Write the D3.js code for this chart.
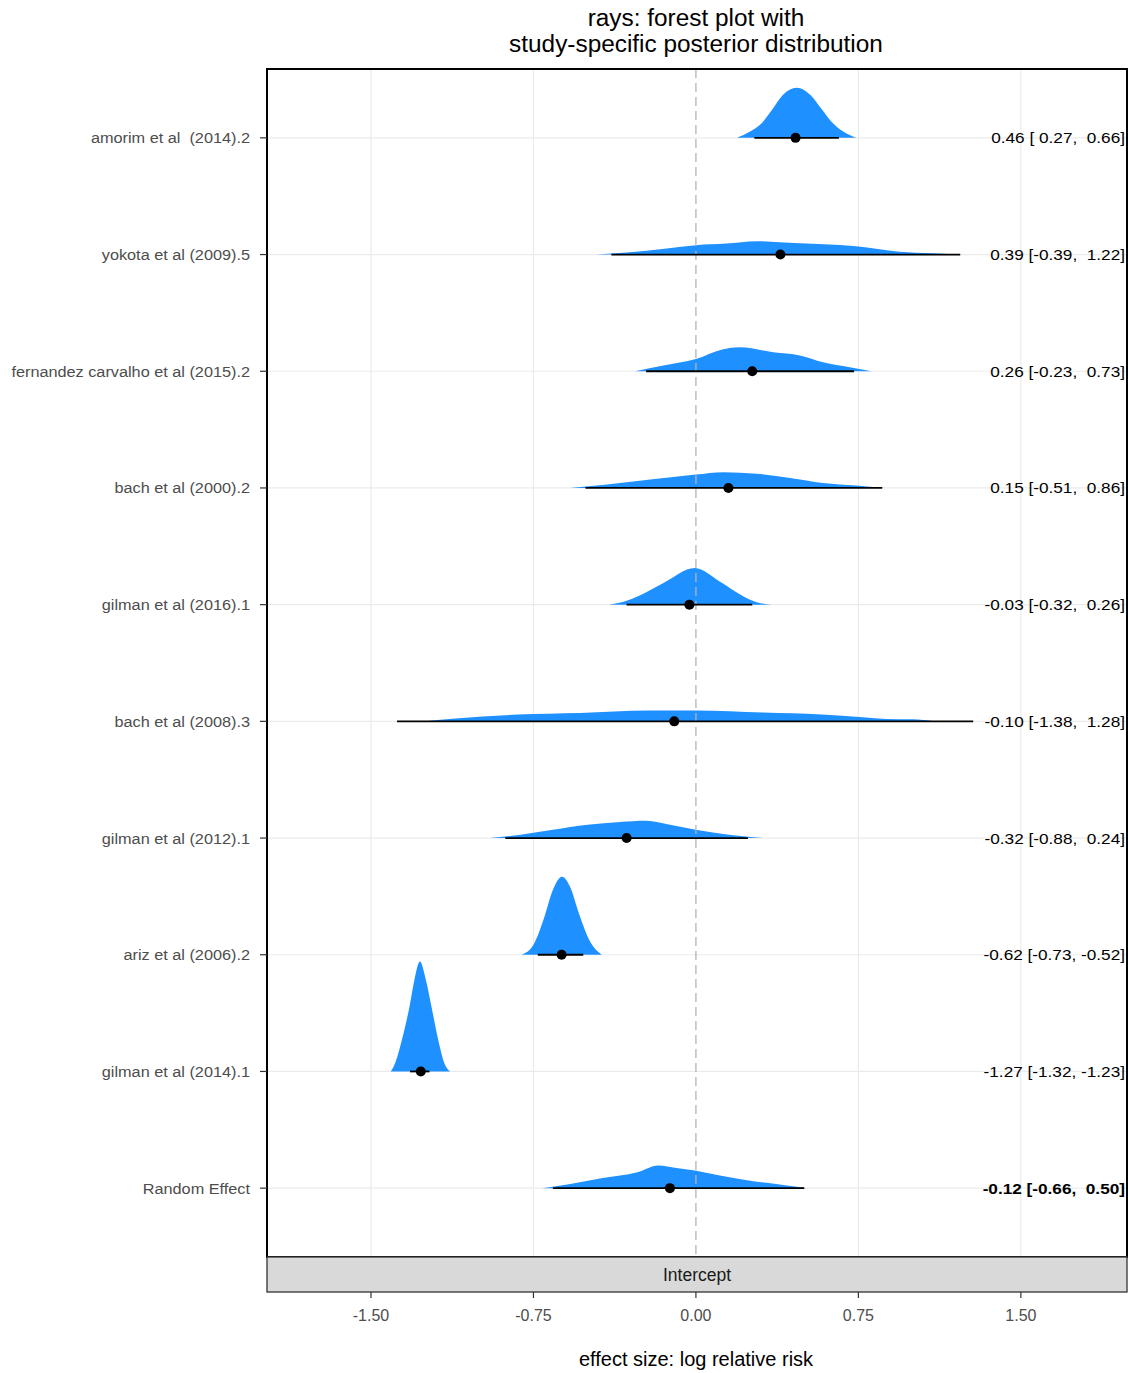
<!DOCTYPE html>
<html>
<head>
<meta charset="utf-8">
<script src="https://cdn.jsdelivr.net/npm/d3@7"></script>
<style>
  body { margin: 0; background: #fff; }
  text { font-family: "Liberation Sans", Arial, sans-serif; }
</style>
</head>
<body>
<svg id="chart" width="1128" height="1373"></svg>
<script>
// studies, top to bottom
const studies = [
  "amorim et al  (2014).2",
  "yokota et al (2009).5",
  "fernandez carvalho et al (2015).2",
  "bach et al (2000).2",
  "gilman et al (2016).1",
  "bach et al (2008).3",
  "gilman et al (2012).1",
  "ariz et al (2006).2",
  "gilman et al (2014).1",
  "Random Effect"
];
const estimates = [0.46, 0.39, 0.26, 0.15, -0.03, -0.10, -0.32, -0.62, -1.27, -0.12];
const lower = [0.27, -0.39, -0.23, -0.51, -0.32, -1.38, -0.88, -0.73, -1.32, -0.66];
const upper = [0.66, 1.22, 0.73, 0.86, 0.26, 1.28, 0.24, -0.52, -1.23, 0.50];

// posterior densities: [effect, density]
const densities = [
  [[0.19,0],[0.25,0.5],[0.30,1.1],[0.35,2.2],[0.40,3.4],[0.465,4.0],[0.53,3.4],[0.58,2.3],[0.63,1.2],[0.68,0.5],[0.74,0]],
  [[-0.46,0],[-0.32,0.16],[-0.135,0.48],[0.0,0.75],[0.14,0.88],[0.28,1.07],[0.43,0.94],[0.59,0.82],[0.74,0.66],[0.94,0.22],[1.09,0.1],[1.23,0]],
  [[-0.28,0],[-0.15,0.46],[0.0,0.98],[0.126,1.76],[0.2,1.92],[0.357,1.52],[0.48,1.26],[0.587,0.72],[0.71,0.32],[0.81,0]],
  [[-0.58,0],[-0.41,0.27],[-0.21,0.67],[0.0,1.07],[0.126,1.26],[0.28,1.14],[0.434,0.8],[0.587,0.4],[0.74,0.19],[0.87,0]],
  [[-0.40,0],[-0.33,0.25],[-0.27,0.66],[-0.15,1.74],[-0.005,2.94],[0.11,1.86],[0.22,0.66],[0.28,0.2],[0.35,0]],
  [[-1.25,0],[-1.11,0.22],[-0.82,0.54],[-0.535,0.66],[-0.22,0.86],[0.0,0.86],[0.31,0.7],[0.58,0.54],[0.77,0.32],[0.88,0.19],[1.0,0.16],[1.1,0]],
  [[-0.95,0],[-0.81,0.27],[-0.66,0.66],[-0.50,1.06],[-0.35,1.28],[-0.23,1.38],[-0.12,1.06],[0.0,0.66],[0.126,0.32],[0.31,0]],
  [[-0.805,0],[-0.75,0.8],[-0.70,3.0],[-0.66,5.2],[-0.618,6.24],[-0.58,5.4],[-0.54,3.3],[-0.49,1.1],[-0.435,0]],
  [[-1.409,0],[-1.39,0.6],[-1.358,2.48],[-1.323,5.12],[-1.300,7.28],[-1.274,8.8],[-1.246,7.28],[-1.220,5.12],[-1.189,2.48],[-1.16,0.6],[-1.135,0]],
  [[-0.71,0],[-0.58,0.34],[-0.43,0.82],[-0.27,1.28],[-0.174,1.82],[-0.09,1.62],[-0.005,1.42],[0.11,1.02],[0.265,0.56],[0.42,0.22],[0.51,0]]
];
const xTicks = [-1.5, -0.75, 0, 0.75, 1.5];

const svg = d3.select("#chart");
const panel = {left: 267, right: 1127, top: 69, bottom: 1257};

const x = d3.scaleLinear().domain([-1.98, 1.99]).range([panel.left, panel.right]);
const y = d3.scalePoint().domain(studies).range([panel.top, panel.bottom]).padding(0.59);
const h = d3.scaleLinear().domain([0, 1]).range([0, 12.5]);

// text in the source is a bit wider than Liberation Sans
const stretch = (sel, px, py, sx) => sel.attr("transform", "translate(" + px + "," + py + ") scale(" + sx + ",1)");

// title
stretch(svg.append("text"), 696, 26, 1.06).attr("text-anchor", "middle")
  .style("font-size", "23px").text("rays: forest plot with");
stretch(svg.append("text"), 696, 52, 1.06).attr("text-anchor", "middle")
  .style("font-size", "23px").text("study-specific posterior distribution");

// grid
const g = svg.append("g");
g.selectAll(".vgrid").data(xTicks.filter(d => d !== 0)).enter().append("line")
  .attr("x1", d => x(d)).attr("x2", d => x(d))
  .attr("y1", panel.top).attr("y2", panel.bottom)
  .attr("stroke", "#ebebeb").attr("stroke-width", 1.2);
g.selectAll(".hgrid").data(studies).enter().append("line")
  .attr("x1", panel.left).attr("x2", panel.right)
  .attr("y1", d => y(d)).attr("y2", d => y(d))
  .attr("stroke", "#ebebeb").attr("stroke-width", 1.2);

// densities
const area = d3.area()
  .x(d => x(d[0]))
  .y0(0)
  .y1(d => -h(d[1]))
  .curve(d3.curveMonotoneX);
g.selectAll(".dens").data(densities).enter().append("path")
  .attr("transform", (d, i) => "translate(0," + y(studies[i]) + ")")
  .attr("d", area)
  .attr("fill", "#1E90FF");

// zero line
g.append("line")
  .attr("x1", x(0)).attr("x2", x(0))
  .attr("y1", panel.top).attr("y2", panel.bottom)
  .attr("stroke", "#b3b3b3").attr("stroke-width", 1.3)
  .attr("stroke-dasharray", "9,5");

// intervals + points
g.selectAll(".ci").data(studies).enter().append("line")
  .attr("x1", (d, i) => x(lower[i])).attr("x2", (d, i) => x(upper[i]))
  .attr("y1", d => y(d)).attr("y2", d => y(d))
  .attr("stroke", "#000").attr("stroke-width", 1.8);
g.selectAll(".pt").data(studies).enter().append("circle")
  .attr("cx", (d, i) => x(estimates[i])).attr("cy", d => y(d))
  .attr("r", 5).attr("fill", "#000");

// estimate labels
const fmt = v => (v < 0 ? "" : " ") + v.toFixed(2);
g.selectAll(".lab").data(studies).enter().append("text")
  .attr("transform", d => "translate(1125," + (y(d) + 5.5) + ") scale(1.11,1)")
  .attr("text-anchor", "end")
  .attr("xml:space", "preserve")
  .style("white-space", "pre")
  .style("font-size", "15.5px")
  .style("font-weight", d => d === "Random Effect" ? "bold" : "normal")
  .text((d, i) => estimates[i].toFixed(2) + " [" + fmt(lower[i]) + ", " + fmt(upper[i]) + "]");

// panel border
svg.append("rect")
  .attr("x", panel.left).attr("y", panel.top)
  .attr("width", panel.right - panel.left).attr("height", panel.bottom - panel.top)
  .attr("fill", "none").attr("stroke", "#000").attr("stroke-width", 2);

// strip
svg.append("rect")
  .attr("x", panel.left).attr("y", panel.bottom)
  .attr("width", panel.right - panel.left).attr("height", 35)
  .attr("fill", "#d9d9d9").attr("stroke", "#333").attr("stroke-width", 1.3);
svg.append("text").attr("x", (panel.left + panel.right) / 2).attr("y", panel.bottom + 24)
  .attr("text-anchor", "middle").style("font-size", "17.5px").attr("fill", "#1a1a1a")
  .text("Intercept");

// x axis
const xAxis = svg.append("g").attr("transform", "translate(0," + (panel.bottom + 35) + ")");
xAxis.selectAll("line").data(xTicks).enter().append("line")
  .attr("x1", d => x(d)).attr("x2", d => x(d))
  .attr("y1", 0).attr("y2", 6).attr("stroke", "#333").attr("stroke-width", 1.2);
xAxis.selectAll("text").data(xTicks).enter().append("text")
  .attr("x", d => x(d)).attr("y", 29).attr("text-anchor", "middle")
  .style("font-size", "16px").attr("fill", "#4d4d4d")
  .text(d => d3.format(".2f")(d).replace("−", "-"));
svg.append("text").attr("x", 696).attr("y", 1366).attr("text-anchor", "middle")
  .style("font-size", "20px").text("effect size: log relative risk");

// y axis
const yAxis = svg.append("g");
yAxis.selectAll("line").data(studies).enter().append("line")
  .attr("x1", panel.left - 7).attr("x2", panel.left)
  .attr("y1", d => y(d)).attr("y2", d => y(d))
  .attr("stroke", "#333").attr("stroke-width", 1.2);
yAxis.selectAll("text").data(studies).enter().append("text")
  .attr("transform", d => "translate(250," + (y(d) + 5.5) + ") scale(1.05,1)")
  .attr("text-anchor", "end")
  .attr("xml:space", "preserve").style("white-space", "pre")
  .style("font-size", "15.5px").attr("fill", "#4d4d4d")
  .text(d => d);
</script>
</body>
</html>
